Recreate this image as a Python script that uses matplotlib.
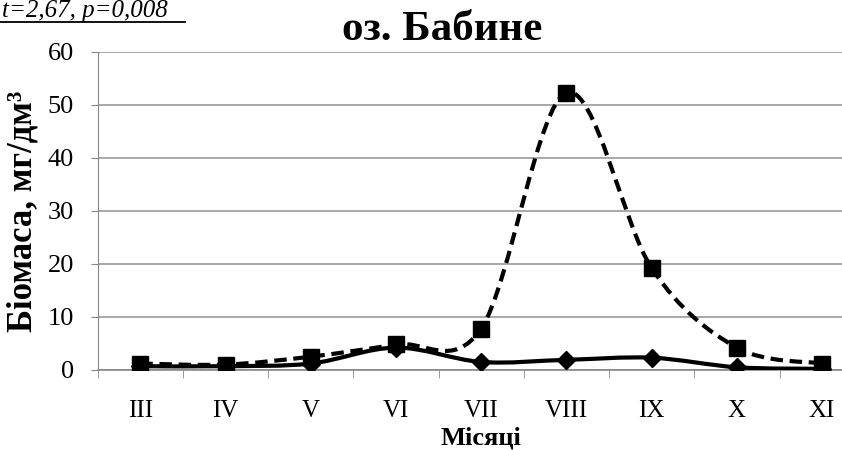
import numpy as np
import matplotlib
matplotlib.use("Agg")
import matplotlib.pyplot as plt
from matplotlib.path import Path
from matplotlib.patches import PathPatch
from matplotlib.lines import Line2D

months = ["III", "IV", "V", "VI", "VII", "VIII", "IX", "X", "XI"]
total = [1.2, 1.0, 2.5, 4.8, 7.8, 52.3, 19.2, 4.2, 1.2]
part = [0.7, 0.7, 1.2, 4.2, 1.5, 1.9, 2.3, 0.5, 0.2]

plt.rcParams['font.family'] = ['Liberation Serif', 'DejaVu Serif']


def smooth_path(xs, ys):
    # Excel-like smoothed line: cubic bezier through every point
    pts = np.column_stack([xs, ys]).astype(float)
    verts = [pts[0]]
    codes = [Path.MOVETO]
    n = len(pts)
    for i in range(n - 1):
        p0 = pts[i - 1] if i > 0 else pts[i]
        p1 = pts[i]
        p2 = pts[i + 1]
        p3 = pts[i + 2] if i + 2 < n else pts[i + 1]
        c1 = p1 + (p2 - p0) / 6.0
        c2 = p2 - (p3 - p1) / 6.0
        verts += [c1, c2, p2]
        codes += [Path.CURVE4] * 3
    return Path(verts, codes)


fig = plt.figure(figsize=(8.42, 4.5), dpi=100)
ax = fig.add_axes([0.116, 0.178, 0.911, 0.707])

x = np.arange(len(months))

ax.add_patch(PathPatch(smooth_path(x, total), fill=False, color="black",
                       lw=3, linestyle=(0, (3, 1.6)), zorder=3))
ax.add_patch(PathPatch(smooth_path(x, part), fill=False, color="black",
                       lw=3, zorder=3))
ax.plot(x, total, linestyle="none", marker="s", markersize=12, color="black", zorder=4)
ax.plot(x, part, linestyle="none", marker="D", markersize=9, color="black", zorder=4)

ax.set_xlim(-0.5, len(months) - 0.5)
ax.set_ylim(0, 60)
ax.set_yticks(range(0, 61, 10))
ax.set_xticks(x)
ax.set_xticklabels(months)
ax.set_xticks(np.arange(-0.5, len(months), 1), minor=True)
ax.tick_params(axis="x", which="major", length=0, pad=22, labelsize=18)
ax.tick_params(axis="x", which="minor", length=6, color="#888888")
ax.tick_params(axis="y", length=5, color="#888888", labelsize=19, pad=12)
ax.yaxis.grid(True, color="#999999", lw=1.2)
ax.set_axisbelow(True)
for s in ["top", "right"]:
    ax.spines[s].set_visible(False)
ax.spines["left"].set_color("#888888")
ax.spines["bottom"].set_color("#888888")
ax.spines["bottom"].set_linewidth(1.2)

ax.set_ylabel("Біомаса, мг/дм³", fontsize=25, fontweight="bold", labelpad=6)
ax.set_xlabel("Місяці", fontsize=19, fontweight="bold", labelpad=3)
fig.text(0.525, 0.933, "оз. Бабине", fontsize=31, fontweight="bold", ha="center", va="center")

fig.text(0.002, 0.975, "t=2,67, p=0,008", fontsize=18, style="italic", va="center", ha="left")
fig.add_artist(Line2D([0, 0.22], [0.951, 0.951], color="black", lw=1.3))

fig.savefig("out.png", dpi=100)
